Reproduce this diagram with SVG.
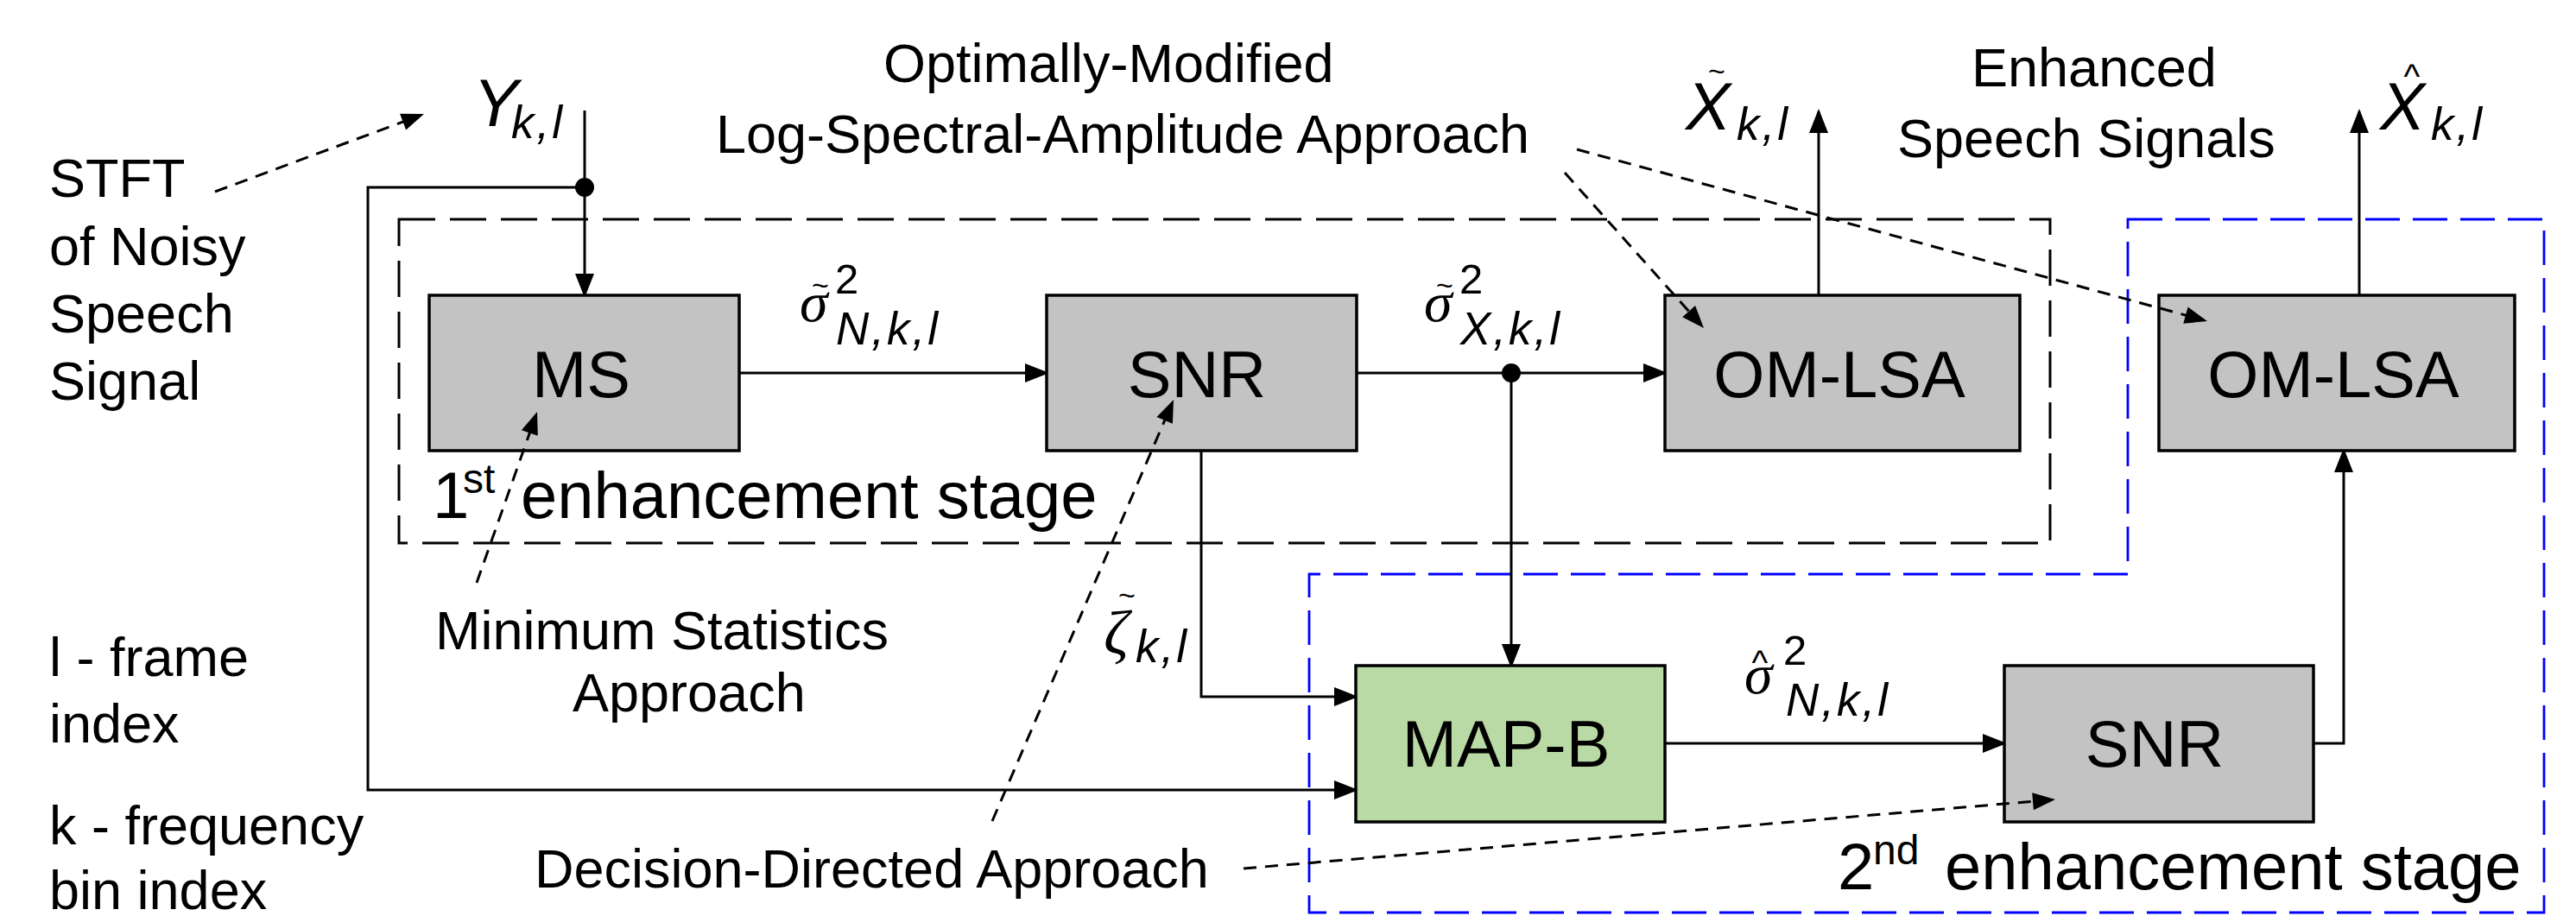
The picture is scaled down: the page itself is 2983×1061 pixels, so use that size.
<svg xmlns="http://www.w3.org/2000/svg" width="2983" height="1061" viewBox="0 0 2983 1061">
  <style>
    text { font-family: "Liberation Sans", Arial, sans-serif; fill: #000; }
    .lbl { font-size: 63px; }
    .box-lbl { font-size: 76px; text-anchor: middle; }
    .stage { font-size: 76px; }
    .sup { font-size: 48px; }
    .big { font-size: 78px; font-style: italic; }
    .sub { font-size: 53px; font-style: italic; letter-spacing: 3px; }
    .greek { font-family: "Liberation Serif", "Times New Roman", serif; font-style: italic; font-size: 66px; }
    .acc { font-size: 34px; text-anchor: middle; }
    .hat { font-size: 40px; text-anchor: middle; }
    .pow { font-size: 49px; }
    .box { fill: #c3c3c3; stroke: #000; stroke-width: 3.5; }
    .box-green { fill: #b9d9a5; stroke: #000; stroke-width: 3.5; }
    .wire { fill: none; stroke: #000; stroke-width: 3; }
    .arrow { marker-end: url(#head); }
    .note { fill: none; stroke: #000; stroke-width: 3; stroke-dasharray: 15 10; }
    .note-head { fill: #000; stroke: none; }
    .stage1 { fill: none; stroke: #000; stroke-width: 3; stroke-dasharray: 42 17; }
    .stage2 { fill: none; stroke: #0000ff; stroke-width: 2.8; stroke-dasharray: 40 15; }
  </style>
  <defs>
    <marker id="head" markerUnits="userSpaceOnUse" viewBox="0 0 28 24" markerWidth="28" markerHeight="24" refX="25" refY="12" orient="auto">
      <path d="M0,1 L28,12 L0,23 z" fill="#000"/>
    </marker>
  </defs>

  <rect width="2983" height="1061" fill="#fff"/>

  <!-- stage frames -->
  <g id="stage-frames">
    <rect class="stage1" x="462" y="254" width="1912" height="375"/>
    <path class="stage2" d="M2464,254 L2946,254 L2946,1057 L1516,1057 L1516,665 L2464,665 Z"/>
  </g>

  <!-- signal flow -->
  <g id="connectors">
    <path class="wire arrow" d="M677,128 L677,342"/>
    <path class="wire arrow" d="M677,217 L426,217 L426,915 L1570,915"/>
    <path class="wire arrow" d="M856,432 L1212,432"/>
    <path class="wire arrow" d="M1571,432 L1928,432"/>
    <path class="wire arrow" d="M1750,432 L1750,771"/>
    <path class="wire arrow" d="M1391,522 L1391,807 L1570,807"/>
    <path class="wire arrow" d="M2106,342 L2106,129"/>
    <path class="wire arrow" d="M2732,342 L2732,129"/>
    <path class="wire arrow" d="M1928,861 L2321,861"/>
    <path class="wire arrow" d="M2679,861 L2714,861 L2714,522"/>
    <circle cx="677" cy="217" r="11" fill="#000"/>
    <circle cx="1750" cy="432" r="11" fill="#000"/>
  </g>

  <!-- processing blocks -->
  <g id="node-ms">
    <rect class="box" x="497" y="342" width="359" height="180"/>
    <text class="box-lbl" x="673" y="460">MS</text>
  </g>
  <g id="node-snr1">
    <rect class="box" x="1212" y="342" width="359" height="180"/>
    <text class="box-lbl" x="1386" y="460">SNR</text>
  </g>
  <g id="node-omlsa1">
    <rect class="box" x="1928" y="342" width="411" height="180"/>
    <text class="box-lbl" x="2130" y="460">OM-LSA</text>
  </g>
  <g id="node-omlsa2">
    <rect class="box" x="2500" y="342" width="412" height="180"/>
    <text class="box-lbl" x="2702" y="460">OM-LSA</text>
  </g>
  <g id="node-mapb">
    <rect class="box-green" x="1570" y="771" width="358" height="181"/>
    <text class="box-lbl" x="1744" y="888">MAP-B</text>
  </g>
  <g id="node-snr2">
    <rect class="box" x="2321" y="771" width="358" height="181"/>
    <text class="box-lbl" x="2495" y="888">SNR</text>
  </g>

  <!-- annotation pointers, drawn over the blocks they point into -->
  <g id="annotations">
    <path class="note" d="M249,222 L472.3,139"/>
    <polygon class="note-head" points="491,132 470.1,150.4 463.1,131.7"/>
    <path class="note" d="M552,675 L615.3,495.9"/>
    <polygon class="note-head" points="622,477 622.8,504.8 603.9,498.2"/>
    <path class="note" d="M1149,951 L1351.1,481.4"/>
    <polygon class="note-head" points="1359,463 1357.9,490.8 1339.5,482.9"/>
    <path class="note" d="M1440,1006 L2360.1,927.7"/>
    <polygon class="note-head" points="2380,926 2354.9,938.2 2353.2,918.2"/>
    <path class="note" d="M1812,200 L1959.7,365.1"/>
    <polygon class="note-head" points="1973,380 1948.2,367.3 1963.1,354"/>
    <path class="note" d="M1826,173 L2536.7,366.7"/>
    <polygon class="note-head" points="2556,372 2528.3,374.8 2533.6,355.5"/>
  </g>

  <!-- signal symbols -->
  <g id="sym-y">
    <text class="big" x="548" y="146">Y</text>
    <text class="sub" x="592" y="160">k,l</text>
  </g>
  <g id="sym-noise1">
    <text class="greek" x="926" y="372">σ</text>
    <text class="acc" x="950" y="342">~</text>
    <text class="pow" x="967" y="340">2</text>
    <text class="sub" x="968" y="399">N,k,l</text>
  </g>
  <g id="sym-speech1">
    <text class="greek" x="1649" y="372">σ</text>
    <text class="acc" x="1673" y="342">~</text>
    <text class="pow" x="1690" y="340">2</text>
    <text class="sub" x="1691" y="399">X,k,l</text>
  </g>
  <g id="sym-noise2">
    <text class="greek" x="2020" y="803">σ</text>
    <text class="hat" x="2038" y="781">^</text>
    <text class="pow" x="2065" y="770">2</text>
    <text class="sub" x="2068" y="829">N,k,l</text>
  </g>
  <g id="sym-xi">
    <text class="greek" x="1278" y="757" style="font-size:72px">ζ</text>
    <text class="acc" x="1305" y="701">~</text>
    <text class="sub" x="1315" y="767">k,l</text>
  </g>
  <g id="sym-out1">
    <text class="big" x="1952" y="150">X</text>
    <text class="acc" x="1988" y="94">~</text>
    <text class="sub" x="2011" y="162">k,l</text>
  </g>
  <g id="sym-out2">
    <text class="big" x="2756" y="150">X</text>
    <text class="hat" x="2793" y="102">^</text>
    <text class="sub" x="2815" y="162">k,l</text>
  </g>

  <!-- captions -->
  <g id="caption-stft">
    <text class="lbl" x="57" y="228">STFT</text>
    <text class="lbl" x="57" y="307">of Noisy</text>
    <text class="lbl" x="57" y="385">Speech</text>
    <text class="lbl" x="57" y="463">Signal</text>
  </g>
  <g id="caption-indices">
    <text class="lbl" x="57" y="783">l - frame</text>
    <text class="lbl" x="57" y="860">index</text>
    <text class="lbl" x="57" y="978">k - frequency</text>
    <text class="lbl" x="57" y="1053">bin index</text>
  </g>
  <g id="caption-omlsa">
    <text class="lbl" x="1023" y="95">Optimally-Modified</text>
    <text class="lbl" x="829" y="177">Log-Spectral-Amplitude Approach</text>
  </g>
  <g id="caption-enhanced">
    <text class="lbl" x="2283" y="100">Enhanced</text>
    <text class="lbl" x="2197" y="182">Speech Signals</text>
  </g>
  <g id="caption-ms">
    <text class="lbl" x="504" y="752">Minimum Statistics</text>
    <text class="lbl" x="663" y="824">Approach</text>
  </g>
  <g id="caption-dd">
    <text class="lbl" x="619" y="1028">Decision-Directed Approach</text>
  </g>
  <g id="caption-stage1">
    <text class="stage" x="501" y="600">1</text>
    <text class="sup" x="536" y="571">st</text>
    <text class="stage" x="603" y="600">enhancement stage</text>
  </g>
  <g id="caption-stage2">
    <text class="stage" x="2128" y="1030">2</text>
    <text class="sup" x="2169" y="1001">nd</text>
    <text class="stage" x="2252" y="1030">enhancement stage</text>
  </g>
</svg>
